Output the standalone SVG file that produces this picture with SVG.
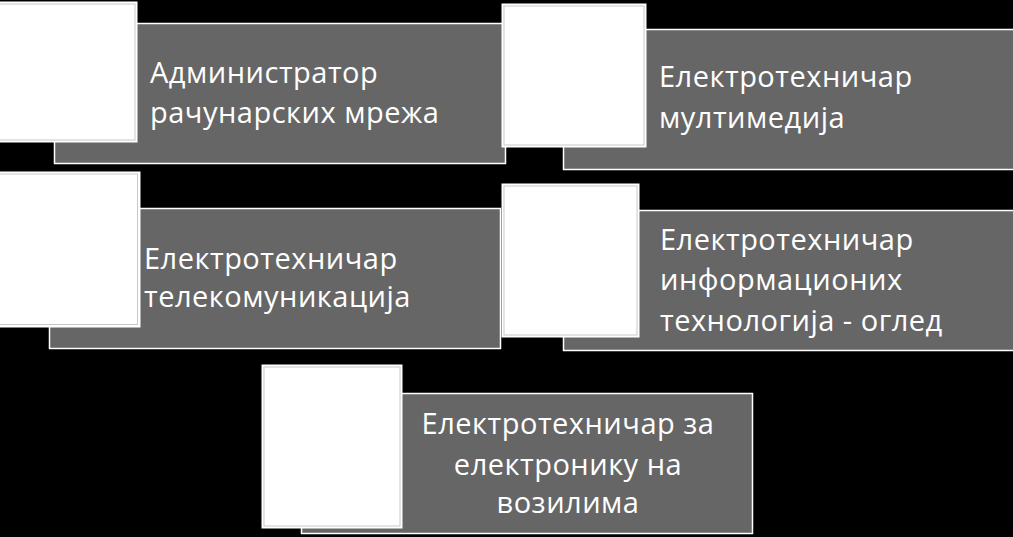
<svg xmlns="http://www.w3.org/2000/svg" width="1013" height="537" viewBox="0 0 1013 537">
<style>
.bar{fill:#666666;stroke:#ffffff;stroke-width:1.5}
.sq{fill:#ffffff;stroke:#ffffff;stroke-width:1}
.sqin{fill:none;stroke:#c8c8c8;stroke-width:1}
.t{font-family:"Open Sans","Noto Sans",sans-serif;font-size:29px;letter-spacing:0.5px;fill:#ffffff}
</style>
<rect x="0" y="0" width="1013" height="537" fill="#000000"/>
<g id="node1">
<rect class="bar" x="54.5" y="23.5" width="451" height="140"/>
<rect class="sq" x="-2" y="2" width="139" height="140"/>
<rect class="sqin" x="-2" y="4" width="137" height="136"/>
<text class="t" x="150" y="83">Администратор</text>
<text class="t" x="150" y="123">рачунарских мрежа</text>
</g>
<g id="node2">
<rect class="bar" x="563.5" y="29.5" width="452" height="140"/>
<rect class="sq" x="502" y="4" width="144" height="143"/>
<rect class="sqin" x="504" y="6" width="140" height="139"/>
<text class="t" x="659" y="87">Електротехничар</text>
<text class="t" x="659" y="128">мултимедија</text>
</g>
<g id="node3">
<rect class="bar" x="49.5" y="208.5" width="451" height="140"/>
<rect class="sq" x="-2" y="172" width="142" height="155"/>
<rect class="sqin" x="-2" y="174" width="139.5" height="150.5"/>
<text class="t" x="144" y="269">Електротехничар</text>
<text class="t" x="144" y="307">телекомуникација</text>
</g>
<g id="node4">
<rect class="bar" x="563.5" y="210.5" width="452" height="140"/>
<rect class="sq" x="502" y="184" width="137" height="153"/>
<rect class="sqin" x="504" y="186" width="133" height="149"/>
<text class="t" x="660" y="250">Електротехничар</text>
<text class="t" x="660" y="290">информационих</text>
<text class="t" x="660" y="331">технологија - оглед</text>
</g>
<g id="node5">
<rect class="bar" x="301.5" y="393.5" width="451" height="140"/>
<rect class="sq" x="262" y="365" width="140" height="163"/>
<rect class="sqin" x="264" y="367" width="136" height="159"/>
<text class="t" x="568" y="434" text-anchor="middle">Електротехничар за</text>
<text class="t" x="568" y="475" text-anchor="middle">електронику на</text>
<text class="t" x="568" y="513" text-anchor="middle">возилима</text>
</g>
<g id="connectors"></g>
</svg>
